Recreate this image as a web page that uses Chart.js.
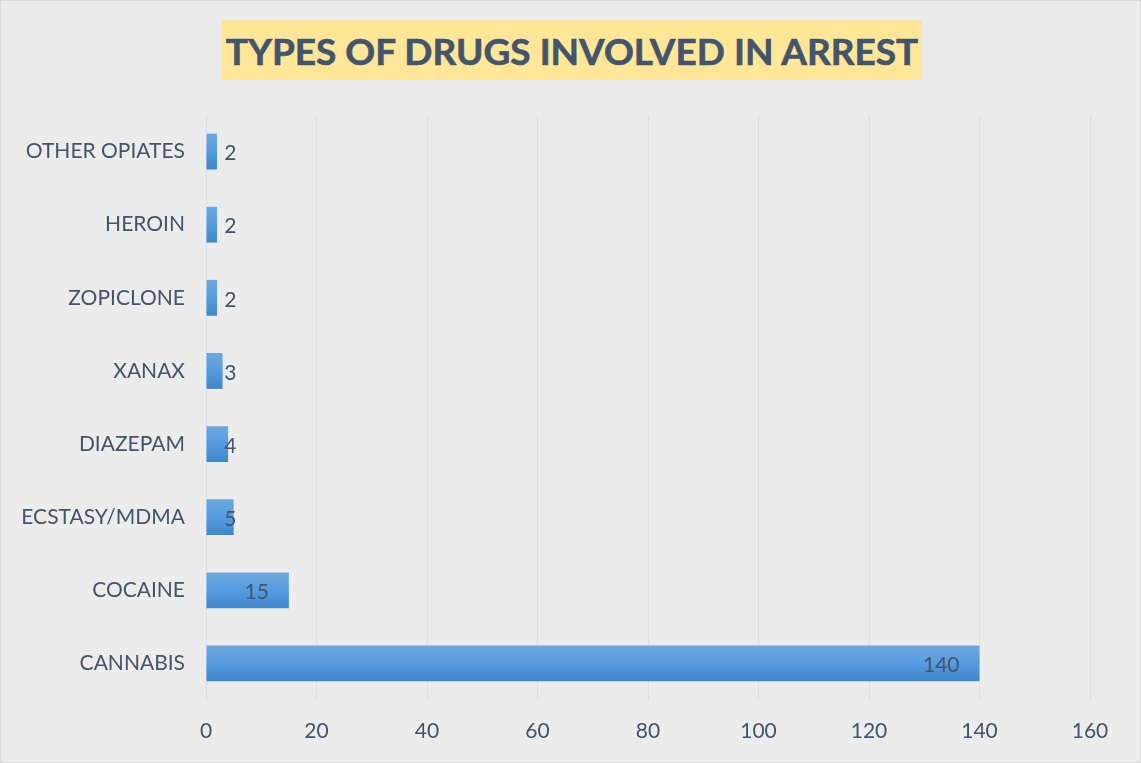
<!DOCTYPE html>
<html>
<head>
<meta charset="utf-8">
<script src="https://cdn.jsdelivr.net/npm/chart.js@4/dist/chart.umd.min.js"></script>
<style>
  html, body { margin: 0; padding: 0; background: #ececec; }
  #wrap { position: relative; width: 1141px; height: 763px; }
  #title {
    position: absolute; left: 222px; top: 20px; width: 700px; height: 60px;
    background: #ffe699; color: #44546a;
    font: bold 37px Lato, "Open Sans", sans-serif;
    -webkit-text-stroke: 0.6px #44546a;
    line-height: 62px; text-align: center; white-space: nowrap;
  }
  canvas { position: absolute; left: 0; top: 0; }
</style>
</head>
<body>
<div id="wrap">
  <canvas id="chart" width="1141" height="763"></canvas>
  <div id="title">TYPES OF DRUGS INVOLVED IN ARREST</div>
</div>
<script>
// Kategorie od góry do dołu
const drugs = ['OTHER OPIATES', 'HEROIN', 'ZOPICLONE', 'XANAX', 'DIAZEPAM', 'ECSTASY/MDMA', 'COCAINE', 'CANNABIS'];
const arrests = [2, 2, 2, 3, 4, 5, 15, 140];
const axisTicks = [0, 20, 40, 60, 80, 100, 120, 140, 160];

const textColor = '#44546a';
const fontFamily = 'Lato, "Open Sans", sans-serif';

// Etykiety wartości jak w Excelu (inside end, przesunięte przy krótkich słupkach)
const valueLabels = {
    id: 'valueLabels',
    afterDatasetsDraw(chart) {
        const ctx = chart.ctx;
        const meta = chart.getDatasetMeta(0);
        ctx.save();
        ctx.font = '21px ' + fontFamily;
        ctx.fillStyle = textColor;
        ctx.textAlign = 'right';
        ctx.textBaseline = 'middle';
        meta.data.forEach((bar, i) => {
            const x = Math.max(bar.x - 20, bar.base + 30);
            ctx.fillText(String(arrests[i]), x, bar.y + 2);
        });
        ctx.restore();
    }
};

// Tło i ramka wokół całego wykresu
const outerBorder = {
    id: 'outerBorder',
    beforeDraw(chart) {
        const ctx = chart.ctx;
        ctx.save();
        ctx.fillStyle = '#ececec';
        ctx.fillRect(0, 0, chart.width, chart.height);
        ctx.strokeStyle = '#d9d9d9';
        ctx.lineWidth = 1;
        ctx.strokeRect(0.5, 0.5, chart.width - 1, chart.height - 1);
        ctx.restore();
    }
};

// Gradient słupka liczony z osi kategorii
function barGradient(context) {
    const chart = context.chart;
    const yScale = chart.scales.y;
    if (!chart.chartArea || !yScale || context.dataIndex === undefined) return '#5b9bd5';
    const yc = yScale.getPixelForValue(context.dataIndex);
    if (!Number.isFinite(yc)) return '#5b9bd5';
    const h = (yScale.height / drugs.length) * 0.49;
    const g = chart.ctx.createLinearGradient(0, yc - h / 2, 0, yc + h / 2);
    g.addColorStop(0, '#6fa8df');
    g.addColorStop(0.5, '#559be0');
    g.addColorStop(1, '#3f86c9');
    return g;
}

new Chart(document.getElementById('chart'), {
    type: 'bar',
    data: {
        labels: drugs,
        datasets: [{
            data: arrests,
            backgroundColor: barGradient,
            borderWidth: 0,
            categoryPercentage: 1,
            barPercentage: 0.49
        }]
    },
    options: {
        indexAxis: 'y',
        responsive: false,
        animation: false,
        layout: { padding: { top: 115, right: 51, bottom: 0, left: 0 } },
        plugins: {
            legend: { display: false },
            tooltip: { enabled: false }
        },
        scales: {
            x: {
                min: 0,
                max: 160,
                afterBuildTicks(scale) {
                    scale.ticks = axisTicks.map(v => ({ value: v }));
                },
                afterFit(scale) { scale.height = 63; },
                grid: { color: '#dcdfe3', drawTicks: false, lineWidth: 1 },
                border: { display: false },
                ticks: {
                    color: textColor,
                    padding: 19,
                    font: { family: fontFamily, size: 21 }
                }
            },
            y: {
                afterFit(scale) { scale.width = 206; },
                grid: { display: false, drawTicks: false },
                border: { display: true, color: '#dcdfe3' },
                ticks: {
                    color: textColor,
                    padding: 21,
                    font: { family: fontFamily, size: 21 }
                }
            }
        }
    },
    plugins: [outerBorder, valueLabels]
});
</script>
</body>
</html>
